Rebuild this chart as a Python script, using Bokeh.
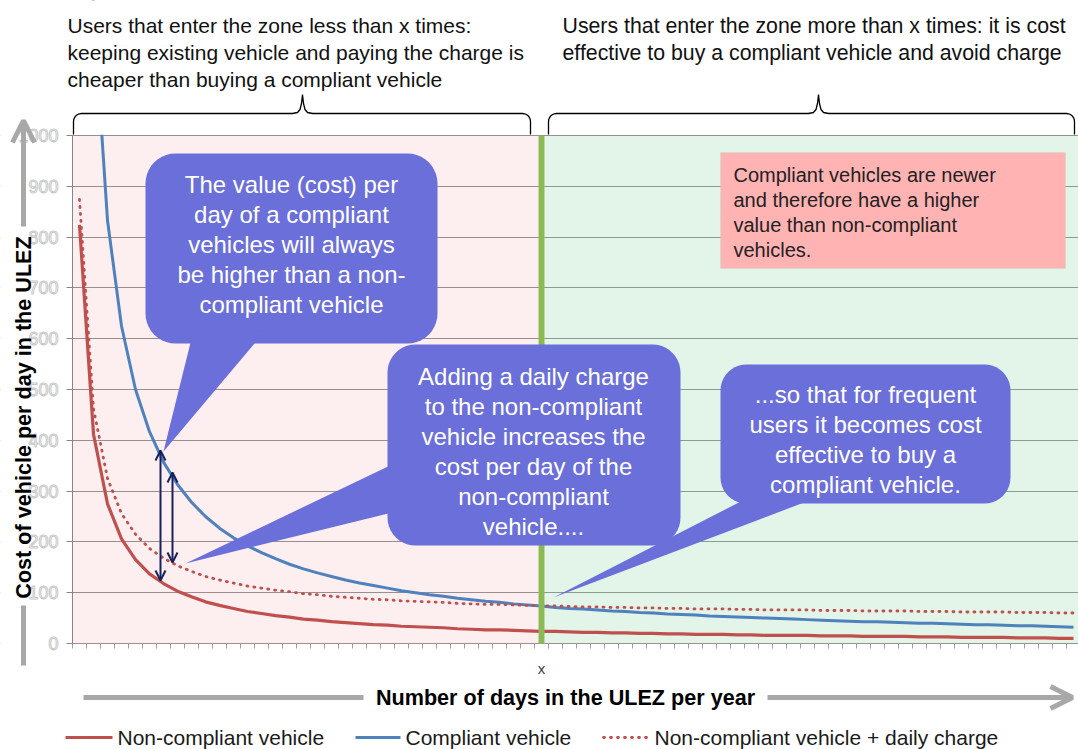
import math
from bokeh.plotting import figure
from bokeh.models import (Range1d, FixedTicker, BoxAnnotation, Label, Arrow,
                          OpenHead, PolyAnnotation)
from bokeh.embed import file_html
from bokeh.resources import INLINE

# ---------------- data ----------------
days = list(range(1, 73))
non_compliant = [824, 412, 275, 206, 165, 137, 118, 103, 92, 82,
                 75, 69, 63, 59, 55, 52, 48, 46, 43, 41,
                 39, 37, 36, 34, 33, 32, 31, 29, 28, 27,
                 27, 26, 25, 24, 24, 23, 22, 22, 21, 21,
                 20, 20, 19, 19, 18, 18, 18, 17, 17, 16,
                 16, 16, 16, 15, 15, 15, 14, 14, 14, 14,
                 13, 13, 13, 12, 12, 12, 12, 11, 11, 11,
                 10, 10]
compliant = [2500, 1250, 833, 625, 500, 417, 357, 313, 278, 250,
             227, 208, 192, 179, 167, 156, 147, 139, 132, 125,
             119, 114, 109, 104, 100, 96, 93, 89, 86, 83,
             81, 78, 76, 74, 71, 69, 68, 66, 64, 63,
             61, 60, 58, 57, 56, 54, 53, 52, 51, 50,
             49, 48, 47, 46, 45, 44, 43, 43, 42, 41,
             40, 40, 39, 38, 37, 37, 36, 35, 35, 34,
             33, 32]
non_compliant_charge = [874, 462, 325, 256, 215, 187, 168, 153, 142, 132,
                        125, 119, 113, 109, 105, 102, 98, 96, 93, 91,
                        89, 87, 86, 84, 83, 82, 81, 79, 78, 77,
                        77, 76, 75, 74, 74, 73, 72, 72, 71, 71,
                        70, 70, 69, 69, 68, 68, 68, 67, 67, 66,
                        66, 66, 66, 65, 65, 65, 64, 64, 64, 64,
                        63, 63, 63, 62, 62, 62, 62, 61, 61, 61,
                        60, 60]
y_ticks = [0, 100, 200, 300, 400, 500, 600, 700, 800, 900, 1000]
threshold_day = 34
threshold_label = "x"

FONT = "Liberation Sans"
RED = "#C0504D"
BLUE = "#4F81BD"
BUB = "#6B6FD9"
NAVY = "#16235E"
GRAY_ARROW = "#A8A8A8"

W, H = 1078, 749
PX = 14.0            # pixels per day category
PY = 0.508           # pixels per cost unit
Y_MAX = 1000

# helpers: picture pixel -> data coordinates
def dx(px):
    return 0.5 + (px - 72) / PX

def dy(py):
    return (643 - py) / PY

X_END = dx(W)

p = figure(width=W, height=H, output_backend="svg", toolbar_location=None,
           x_range=Range1d(dx(0), X_END), y_range=Range1d(dy(H), dy(0)),
           min_border=0)
p.outline_line_color = None
p.background_fill_color = "white"
p.border_fill_color = "white"

# ---------------- axes (fixed at the plot area's edges) ----------------
p.yaxis.fixed_location = 0.5
p.yaxis.bounds = (0, Y_MAX)
p.yaxis.ticker = FixedTicker(ticks=y_ticks)
p.yaxis.axis_line_color = "#868686"
p.yaxis.major_tick_line_color = "#868686"
p.yaxis.major_tick_out = 6
p.yaxis.major_tick_in = 0
p.yaxis.minor_tick_line_color = None
p.yaxis.major_label_text_font = FONT
p.yaxis.major_label_text_font_size = "18px"
p.yaxis.major_label_standoff = 8
try:
    p.yaxis.major_label_text_outline_color = "#C8C8C8"
    p.yaxis.major_label_text_color = "#FFFFFF"
except Exception:
    p.yaxis.major_label_text_color = "#C8C8C8"

p.xaxis.fixed_location = 0
p.xaxis.bounds = (0.5, X_END)
p.xaxis.ticker = FixedTicker(ticks=[threshold_day],
                             minor_ticks=[d - 0.5 for d in days] + [days[-1] + 0.5])
p.xaxis.major_label_overrides = {threshold_day: threshold_label}
p.xaxis.axis_line_color = "#A09090"
p.xaxis.major_tick_line_color = None
p.xaxis.minor_tick_line_color = "#A0A0A0"
p.xaxis.minor_tick_out = 5
p.xaxis.minor_tick_in = 0
p.xaxis.major_label_text_font = FONT
p.xaxis.major_label_text_font_size = "15px"
p.xaxis.major_label_text_color = "#404040"
p.xaxis.major_label_standoff = 10

p.xgrid.grid_line_color = None
p.ygrid.ticker = FixedTicker(ticks=y_ticks)
p.ygrid.grid_line_color = "#909090"
# mask grid lines left of the plot area
p.add_layout(BoxAnnotation(right=0.5, fill_color="white", fill_alpha=1.0,
                           line_color=None, level="underlay"))

# ---------------- background zones ----------------
p.add_layout(BoxAnnotation(left=0.5, right=dx(538), bottom=0, top=Y_MAX,
                           fill_color="#F08080", fill_alpha=0.13,
                           line_color=None, level="underlay"))
p.add_layout(BoxAnnotation(left=dx(544), bottom=0, top=Y_MAX,
                           fill_color="#73C891", fill_alpha=0.2,
                           line_color=None, level="underlay"))

# ---------------- series ----------------
p.line(days, non_compliant, line_color=RED, line_width=3.2)
p.line(days, compliant, line_color=BLUE, line_width=3)
p.line(days, non_compliant_charge, line_color=RED, line_width=2.8,
       line_dash="1 6", line_cap="round")

# white mask above the plot area (series are clipped at the top of the axis)
p.add_layout(BoxAnnotation(left=0.5, bottom=dy(134.3), fill_color="white",
                           fill_alpha=1.0, line_color=None))

# threshold line
p.add_layout(BoxAnnotation(left=dx(538), right=dx(544), bottom=0, top=Y_MAX,
                           fill_color="#8CB955", fill_alpha=1.0, line_color=None))

# ---------------- pink note box ----------------
p.add_layout(BoxAnnotation(left=dx(720), right=dx(1065), top=dy(152), bottom=dy(268),
                           fill_color="#FFB3B3", fill_alpha=1.0,
                           line_color="#B5DCC2", line_width=1))
for i, t in enumerate(["Compliant vehicles are newer",
                       "and therefore have a higher",
                       "value than non-compliant",
                       "vehicles."]):
    p.add_layout(Label(x=dx(733), y=dy(174 + 25 * i), text=t, text_font=FONT,
                       text_font_size="20px", text_color="#222222",
                       text_align="left", text_baseline="middle"))

# ---------------- callout bubbles ----------------
def rrect(x0, y0, x1, y1, r, n=10):
    pts = []
    for cx, cy, a0, a1 in [(x1 - r, y0 + r, -90, 0), (x1 - r, y1 - r, 0, 90),
                           (x0 + r, y1 - r, 90, 180), (x0 + r, y0 + r, 180, 270)]:
        for k in range(n + 1):
            a = math.radians(a0 + (a1 - a0) * k / n)
            pts.append((cx + r * math.cos(a), cy + r * math.sin(a)))
    return pts

def poly(pts, **kw):
    p.add_layout(PolyAnnotation(xs=[dx(a) for a, b in pts], ys=[dy(b) for a, b in pts], **kw))

def bubble(rect, tail):
    poly(rrect(*rect), fill_color=BUB, fill_alpha=1.0, line_color=None)
    poly(tail, fill_color=BUB, fill_alpha=1.0, line_color=None)

bubble((145, 153, 437, 343, 30), [(193, 330), (265, 330), (163, 451)])
bubble((387, 344, 680, 545, 28), [(400, 460), (400, 510), (185, 563)])
bubble((720, 364, 1010, 503, 26), [(752, 495), (822, 495), (553, 597)])

def lines(texts, cx, y0, step, size="24px"):
    for i, t in enumerate(texts):
        p.add_layout(Label(x=dx(cx), y=dy(y0 + step * i), text=t, text_font=FONT,
                           text_font_size=size, text_color="white",
                           text_align="center", text_baseline="middle"))

lines(["The value (cost) per", "day of a compliant", "vehicles will always",
       "be higher than a non-", "compliant vehicle"], 291, 184, 30)
lines(["Adding a daily charge", "to the non-compliant", "vehicle increases the",
       "cost per day of the", "non-compliant", "vehicle...."], 533, 376, 30)
lines(["...so that for frequent", "users it becomes cost", "effective to buy a",
       "compliant vehicle."], 865, 394, 30)

# ---------------- difference arrows ----------------
for xa, ya0, ya1 in [(160, 580, 450), (172, 562, 472)]:
    p.add_layout(Arrow(x_start=dx(xa), y_start=dy(ya0), x_end=dx(xa), y_end=dy(ya1),
                       line_color=NAVY, line_width=2,
                       start=OpenHead(size=10, line_color=NAVY, line_width=2),
                       end=OpenHead(size=10, line_color=NAVY, line_width=2)))

# ---------------- braces ----------------
def brace(x0, x1, tip, yl=113, ybot=134, ytip=94, r=8):
    pts = [(x0, ybot), (x0, yl + r)]
    for k in range(1, 7):
        a = math.radians(180 + 90 * k / 6)
        pts.append((x0 + r + r * math.cos(a), yl + r + r * math.sin(a)))
    pts += [(tip - 10, yl), (tip - 5, yl - 1), (tip - 2.5, yl - 4), (tip - 1, yl - 10),
            (tip, ytip), (tip + 1, yl - 10), (tip + 2.5, yl - 4), (tip + 5, yl - 1),
            (tip + 10, yl)]
    for k in range(0, 7):
        a = math.radians(270 + 90 * k / 6)
        pts.append((x1 - r + r * math.cos(a), yl + r + r * math.sin(a)))
    pts.append((x1, ybot))
    path = pts + pts[-2::-1]
    poly(path, fill_color=None, fill_alpha=0, line_color="black", line_alpha=1.0,
         line_width=1.3)

brace(73, 530, 302)
brace(548, 1074, 818)

# ---------------- top texts ----------------
for i, t in enumerate(["Users that enter the zone less than x times:",
                       "keeping existing vehicle and paying the charge is",
                       "cheaper than buying a compliant vehicle"]):
    p.add_layout(Label(x=dx(67), y=dy(25 + 27 * i), text=t, text_font=FONT,
                       text_font_size="21px", text_color="#111111",
                       text_align="left", text_baseline="alphabetic"))
for i, t in enumerate(["Users that enter the zone more than x times: it is cost",
                       "effective to buy a compliant vehicle and avoid charge"]):
    p.add_layout(Label(x=dx(562), y=dy(25 + 27 * i), text=t, text_font=FONT,
                       text_font_size="21.3px", text_color="#111111",
                       text_align="left", text_baseline="alphabetic"))

# ---------------- axis arrows & titles ----------------
p.add_layout(Arrow(x_start=dx(83), y_start=dy(697), x_end=dx(363), y_end=dy(697),
                   line_color=GRAY_ARROW, line_width=5, end=None))
p.add_layout(Arrow(x_start=dx(767), y_start=dy(697), x_end=dx(1072), y_end=dy(697),
                   line_color=GRAY_ARROW, line_width=5,
                   end=OpenHead(size=22, line_color=GRAY_ARROW, line_width=5)))
p.add_layout(Arrow(x_start=dx(23), y_start=dy(665), x_end=dx(23), y_end=dy(605),
                   line_color=GRAY_ARROW, line_width=5, end=None))
p.add_layout(Arrow(x_start=dx(23), y_start=dy(226), x_end=dx(23), y_end=dy(120),
                   line_color=GRAY_ARROW, line_width=5,
                   end=OpenHead(size=22, line_color=GRAY_ARROW, line_width=5)))

p.add_layout(Label(x=dx(565), y=dy(697), text="Number of days in the ULEZ per year",
                   text_font=FONT, text_font_size="21.6px", text_font_style="bold",
                   text_color="black", text_align="center", text_baseline="middle"))
p.add_layout(Label(x=dx(23), y=dy(417), text="Cost of vehicle per day in the ULEZ",
                   angle=90, angle_units="deg",
                   text_font=FONT, text_font_size="21.6px", text_font_style="bold",
                   text_color="black", text_align="center", text_baseline="middle"))

# ---------------- legend ----------------
LY = 737
legend_items = [(65, 112, 117, "Non-compliant vehicle", RED, None),
                (355, 400, 405, "Compliant vehicle", BLUE, None),
                (603, 648, 654, "Non-compliant vehicle + daily charge", RED, "1 6")]
for xs0, xs1, xt, t, c, dash in legend_items:
    kw = dict(line_dash=dash, line_cap="round", line_width=2.8) if dash else dict(line_width=3.2)
    p.add_layout(Arrow(x_start=dx(xs0), y_start=dy(LY), x_end=dx(xs1), y_end=dy(LY),
                       line_color=c, end=None, **kw))
    p.add_layout(Label(x=dx(xt), y=dy(LY), text=t, text_font=FONT, text_font_size="21px",
                       text_color="#1A1A1A", text_align="left", text_baseline="middle"))

open("out.html", "w").write(file_html(p, INLINE))
